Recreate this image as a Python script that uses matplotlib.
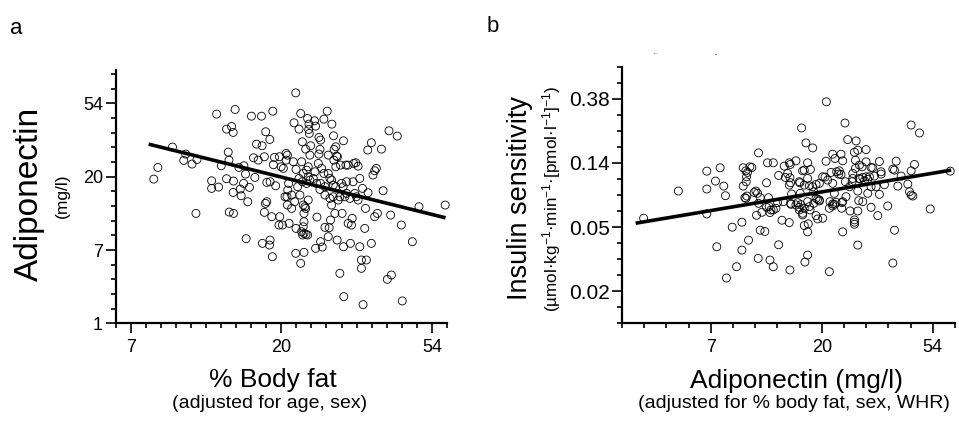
import numpy as np
import matplotlib
matplotlib.use("Agg")
import matplotlib.pyplot as plt
from matplotlib.ticker import MultipleLocator, FixedLocator, FixedFormatter

plt.rcParams['font.family'] = ['Liberation Sans', 'DejaVu Sans']
plt.rcParams['mathtext.fontset'] = 'custom'
plt.rcParams['mathtext.rm'] = 'Liberation Sans'
plt.rcParams['mathtext.it'] = 'Liberation Sans'

# ---------------- data (natural-log units, as plotted) ----------------
# Panel a: ln(% body fat) vs ln(adiponectin)
ln_bodyfat = [2.154, 2.181, 2.278, 2.353, 2.366, 2.408, 2.434, 2.538, 2.538, 2.584,
              2.571, 2.602, 2.637, 2.670, 2.681, 2.694, 2.648, 2.653, 2.637, 2.655,
              2.683, 2.681, 2.683, 2.719, 2.728, 2.752, 2.750, 2.763, 2.778, 2.789,
              2.734, 2.767, 2.802, 2.869, 2.816, 2.836, 2.873, 2.847, 2.825, 2.897,
              2.924, 2.944, 2.888, 2.904, 2.926, 2.904, 2.895, 2.888, 2.937, 2.963,
              2.955, 2.948, 2.988, 2.999, 3.014, 3.032, 3.041, 3.032, 3.049, 3.043,
              3.038, 3.025, 3.041, 2.985, 3.008, 3.052, 2.990, 3.080, 3.098, 3.069,
              3.089, 3.098, 2.875, 2.926, 2.922, 2.941, 3.096, 3.085, 3.118, 3.129,
              3.175, 3.184, 3.182, 3.186, 3.221, 3.228, 3.283, 3.305, 3.336, 3.250,
              3.261, 3.257, 3.195, 3.140, 3.162, 3.190, 3.250, 3.347, 3.413, 3.351,
              3.362, 3.367, 3.312, 3.246, 3.224, 3.179, 3.168, 3.146, 3.140, 3.118,
              3.109, 3.124, 3.168, 3.190, 3.179, 3.213, 3.235, 3.261, 3.283, 3.290,
              3.312, 3.323, 3.345, 3.362, 3.373, 3.393, 3.429, 3.444, 3.481, 3.495,
              3.510, 3.146, 3.157, 3.162, 3.151, 3.151, 3.146, 3.135, 3.151, 3.164,
              3.175, 3.179, 3.142, 3.237, 3.261, 3.228, 3.272, 3.312, 3.318, 3.327,
              3.356, 3.404, 3.371, 3.413, 3.459, 3.444, 3.466, 3.471, 3.521, 3.554,
              3.598, 3.532, 3.565, 3.532, 3.389, 3.415, 3.543, 3.151, 3.096, 3.129,
              3.521, 3.539, 3.499, 3.488, 3.455, 3.433, 3.411, 3.389, 3.378, 3.334,
              3.345, 3.559, 3.576, 3.609, 3.631, 3.620, 3.574, 3.598, 3.665, 3.676,
              3.638, 3.620, 3.726, 3.715, 3.770, 3.797, 3.870, 3.704, 3.731, 3.803,
              3.914, 4.088, 3.135, 3.268, 3.257, 3.290, 3.069, 3.290, 3.349, 3.362,
              3.334, 3.400, 3.433, 3.477, 3.422, 3.323, 3.510, 2.441]
ln_adiponectin = [2.968, 3.127, 3.405, 3.223, 3.309, 3.173, 2.500, 2.945, 2.841, 2.859,
                  3.855, 3.150, 3.650, 3.686, 3.605, 3.918, 3.336, 3.227, 2.973, 2.518,
                  2.500, 2.786, 2.941, 3.127, 2.832, 3.150, 2.909, 3.036, 2.659, 2.855,
                  2.741, 2.155, 3.827, 3.827, 3.259, 3.445, 3.423, 3.227, 2.991, 3.614,
                  3.509, 3.895, 3.273, 2.923, 2.932, 2.659, 2.636, 2.514, 2.455, 2.877,
                  3.264, 3.164, 3.273, 3.136, 3.114, 3.318, 3.295, 3.227, 2.909, 2.818,
                  2.727, 2.727, 2.614, 2.341, 2.341, 2.364, 2.455, 3.205, 3.100, 2.568,
                  2.659, 2.295, 2.091, 2.136, 2.068, 1.909, 4.145, 3.736, 3.650, 3.864,
                  3.795, 3.718, 3.645, 3.591, 3.764, 3.691, 3.786, 3.895, 3.718, 3.536,
                  3.500, 3.373, 3.423, 3.477, 3.377, 3.295, 3.309, 3.559, 3.491, 3.373,
                  3.409, 3.282, 3.295, 3.182, 3.068, 3.136, 3.091, 3.045, 2.932, 2.977,
                  2.864, 2.750, 2.909, 2.955, 3.000, 2.977, 2.909, 2.909, 3.045, 2.864,
                  3.045, 2.977, 2.886, 2.864, 3.273, 3.159, 3.159, 3.159, 3.182, 3.191,
                  3.145, 2.614, 2.591, 2.568, 2.500, 2.386, 2.318, 2.250, 2.227, 2.214,
                  2.205, 2.682, 2.205, 2.450, 2.114, 2.023, 2.041, 2.182, 2.305, 2.409,
                  2.500, 2.500, 2.136, 2.045, 2.091, 2.364, 2.341, 2.432, 2.045, 2.295,
                  2.091, 1.864, 1.864, 1.750, 1.682, 1.364, 1.255, 1.968, 1.955, 1.818,
                  2.977, 2.841, 2.727, 2.773, 2.705, 2.773, 2.864, 2.727, 2.682, 2.614,
                  2.727, 2.568, 2.782, 3.023, 3.114, 3.082, 3.364, 3.464, 3.377, 2.809,
                  2.500, 2.455, 2.477, 3.627, 3.555, 2.341, 2.114, 1.600, 1.659, 1.305,
                  2.591, 2.614, 3.205, 3.114, 2.827, 2.750, 2.750, 2.309, 3.227, 3.136,
                  2.955, 2.909, 2.932, 2.932, 2.727, 2.705, 2.682, 3.236]
fit_a_x = [2.12, 4.09]
fit_a_y = [3.445, 2.44]

# Panel b: ln(adiponectin) vs ln(insulin sensitivity)
ln_adipo_b = [1.395, 1.708, 1.964, 1.964, 1.964, 2.042, 2.084, 2.117, 2.132, 2.054,
              2.141, 2.193, 2.232, 2.280, 2.280, 2.340, 2.292, 2.316, 2.352, 2.370,
              2.322, 2.319, 2.292, 2.307, 2.325, 2.391, 2.406, 2.430, 2.445, 2.430,
              2.412, 2.445, 2.487, 2.427, 2.533, 2.563, 2.611, 2.502, 2.511, 2.563,
              2.460, 2.526, 2.542, 2.563, 2.533, 2.602, 2.611, 2.662, 2.671, 2.713,
              2.716, 2.707, 2.767, 2.719, 2.728, 2.653, 2.641, 2.707, 2.719, 2.782,
              2.797, 2.812, 2.806, 2.803, 2.818, 2.857, 2.918, 2.872, 2.827, 2.842,
              2.897, 2.872, 2.888, 2.918, 2.927, 2.948, 2.978, 2.963, 2.978, 2.927,
              2.872, 2.888, 2.842, 2.894, 2.827, 2.842, 2.878, 2.872, 2.948, 2.963,
              3.008, 2.848, 2.872, 2.713, 3.041, 3.038, 3.029, 3.098, 3.119, 3.134,
              3.152, 3.173, 3.188, 3.158, 3.098, 3.113, 3.074, 3.098, 3.128, 3.182,
              3.179, 3.098, 3.068, 3.188, 3.068, 3.209, 3.233, 3.309, 3.324, 3.294,
              3.399, 3.303, 3.339, 3.303, 3.279, 3.339, 3.369, 3.384, 3.399, 3.414,
              3.399, 3.444, 3.474, 3.519, 3.534, 3.534, 3.489, 3.414, 3.519, 3.369,
              3.324, 3.249, 3.255, 3.324, 3.333, 3.294, 3.294, 3.294, 3.444, 3.504,
              3.324, 3.564, 3.594, 3.640, 3.670, 3.655, 3.685, 3.715, 3.655, 3.640,
              3.775, 3.790, 3.805, 3.820, 3.805, 3.835, 3.805, 3.880, 3.977, 4.157,
              3.188, 3.218, 3.008, 3.053, 3.363, 3.459, 3.345, 3.429, 3.212, 3.273,
              3.444, 2.797, 2.842, 2.707, 2.948, 2.978, 3.113, 2.722, 2.767, 2.797,
              2.827, 3.083, 3.173, 3.279, 2.331, 2.421, 2.316, 2.520, 2.502, 2.587,
              2.692]
ln_insulin_sens = [-2.862, -2.438, -2.128, -2.407, -2.795, -2.283, -2.076, -2.361, -2.511, -3.307,
                   -3.794, -3.002, -3.618, -2.924, -3.359, -3.204, -2.076, -2.123, -2.061, -2.071,
                   -2.216, -2.293, -2.361, -2.542, -2.516, -2.459, -2.438, -1.843, -2.542, -2.630,
                   -2.816, -3.049, -3.069, -3.488, -3.514, -3.618, -3.276, -2.309, -1.998, -1.998,
                   -2.769, -2.681, -2.733, -2.733, -2.774, -2.619, -2.195, -2.050, -2.226, -2.231,
                   -2.024, -1.998, -1.967, -2.309, -2.485, -2.604, -2.893, -2.930, -2.630, -2.619,
                   -2.692, -2.650, -2.474, -2.309, -1.455, -1.688, -1.766, -1.998, -2.123, -2.112,
                   -2.102, -2.242, -2.355, -2.371, -2.449, -2.335, -2.319, -2.568, -2.593, -2.630,
                   -2.604, -2.681, -2.707, -2.733, -2.785, -2.976, -2.950, -3.074, -2.821, -2.873,
                   -2.862, -3.545, -3.437, -3.669, -1.047, -1.973, -2.221, -1.864, -1.931, -2.138,
                   -2.174, -1.864, -1.967, -2.123, -2.319, -2.474, -2.604, -2.640, -2.614, -2.619,
                   -2.707, -2.671, -2.707, -3.074, -3.695, -1.378, -1.636, -1.657, -1.802, -1.833,
                   -1.792, -1.957, -2.035, -2.086, -2.242, -2.242, -2.226, -2.278, -2.216, -2.257,
                   -1.983, -2.071, -2.205, -1.978, -2.138, -2.174, -2.371, -2.474, -2.490, -2.604,
                   -2.438, -2.371, -2.749, -2.749, -2.588, -2.888, -2.924, -2.956, -2.692, -2.821,
                   -3.281, -2.340, -2.671, -2.097, -1.973, -2.112, -2.361, -2.205, -3.049, -3.561,
                   -2.330, -2.449, -2.500, -2.516, -2.123, -2.024, -1.409, -1.533, -2.718, -2.128,
                   -2.604, -2.526, -2.216, -2.268, -2.061, -2.076, -2.252, -2.216, -2.293, -2.293,
                   -2.371, -2.293, -2.345, -2.345, -2.552, -2.578, -2.645, -2.645, -2.655, -2.733,
                   -2.811, -2.148, -2.180, -2.164, -2.148, -2.474, -2.552, -2.542, -2.692, -2.707,
                   -2.165]
fit_b_x = [1.323, 4.166]
fit_b_y = [-2.94, -2.112]

# tick positions (ln units) and their labels
a_xticks = [2, 3, 4]
a_xlabels = ['7', '20', '54']
a_yticks = [1, 2, 3, 4]
a_ylabels = ['1', '7', '20', '54']
b_xticks = [2, 3, 4]
b_xlabels = ['7', '20', '54']
b_yticks = [-4, -3, -2, -1]
b_ylabels = ['0.02', '0.05', '0.14', '0.38']

# ---------------- figure ----------------
W, H = 959, 428
fig = plt.figure(figsize=(W / 100, H / 100), dpi=100)

def rect(l, t, r, b):
    return [l / W, 1 - b / H, (r - l) / W, (b - t) / H]

def fx(x):
    return x / W

def fy(y):
    return 1 - y / H

axA = fig.add_axes(rect(115.5, 70.5, 447, 323.3))
axB = fig.add_axes(rect(622, 66.7, 955, 323.3))

for ax in (axA, axB):
    for s in ('top', 'right'):
        ax.spines[s].set_visible(False)
    for s in ('left', 'bottom'):
        ax.spines[s].set_linewidth(1.6)
    ax.tick_params(which='major', direction='out', length=7.5, width=1.2,
                   pad=1.5, labelsize=13)
    ax.tick_params(which='minor', direction='out', length=3.8, width=1.2)
    ax.set_facecolor('none')

scat_kw = dict(s=33, facecolors='none', edgecolors='black', linewidths=0.6,
               clip_on=False, zorder=3)

# Panel a
axA.scatter(ln_bodyfat, ln_adiponectin, **scat_kw)
axA.plot(fit_a_x, fit_a_y, color='black', lw=2.6, solid_capstyle='butt', zorder=4)
axA.set_xlim(1.9, 4.1)
axA.set_ylim(1.0, 4.45)
axA.xaxis.set_major_locator(FixedLocator(a_xticks))
axA.xaxis.set_major_formatter(FixedFormatter(a_xlabels))
axA.yaxis.set_major_locator(FixedLocator(a_yticks))
axA.yaxis.set_major_formatter(FixedFormatter(a_ylabels))
axA.xaxis.set_minor_locator(MultipleLocator(0.1))
axA.yaxis.set_minor_locator(MultipleLocator(0.2))
axA.tick_params(axis='x', which='major', pad=4)

# Panel b
axB.scatter(ln_adipo_b, ln_insulin_sens, **scat_kw)
axB.plot(fit_b_x, fit_b_y, color='black', lw=2.6, solid_capstyle='butt', zorder=4)
axB.set_xlim(1.2, 4.2)
axB.set_ylim(-4.5, -0.5)
axB.xaxis.set_major_locator(FixedLocator(b_xticks))
axB.xaxis.set_major_formatter(FixedFormatter(b_xlabels))
axB.yaxis.set_major_locator(FixedLocator(b_yticks))
axB.yaxis.set_major_formatter(FixedFormatter(b_ylabels))
axB.xaxis.set_minor_locator(MultipleLocator(0.2))
axB.yaxis.set_minor_locator(MultipleLocator(0.25))
axB.tick_params(axis='y', which='major', labelsize=15)
axB.tick_params(axis='x', which='major', pad=4)

# panel letters
fig.text(fx(16), fy(28), 'a', fontsize=16, ha='center', va='center')
fig.text(fx(493), fy(27), 'b', fontsize=16, ha='center', va='center')

# panel a axis labels
fig.text(fx(29), fy(194), 'Adiponectin', fontsize=24, rotation=90,
         ha='center', va='center')
fig.text(fx(62.5), fy(196), '(mg/l)', fontsize=12.5, rotation=90,
         ha='center', va='center')
fig.text(fx(273), fy(380), '% Body fat', fontsize=19, ha='center', va='center')
fig.text(fx(270), fy(404), '(adjusted for age, sex)', fontsize=14,
         ha='center', va='center')

# panel b axis labels
fig.text(fx(520), fy(198), 'Insulin sensitivity', fontsize=19.5, rotation=90,
         ha='center', va='center')
fig.text(fx(552), fy(199),
         r'(µmol·kg$^{-1}$·min$^{-1}$·[pmol·l$^{-1}$]$^{-1}$)',
         fontsize=12.3, rotation=90, ha='center', va='center')
fig.text(fx(797), fy(381), 'Adiponectin (mg/l)', fontsize=19, ha='center',
         va='center')
fig.text(fx(794), fy(404), '(adjusted for % body fat, sex, WHR)', fontsize=14,
         ha='center', va='center')

# small stray marks above panel b (present in the source image)
fig.text(fx(655), fy(57), '¨', fontsize=6, ha='center', va='center')
fig.text(fx(716), fy(55), '-', fontsize=5, ha='center', va='center')

fig.savefig('out.png', dpi=100)
